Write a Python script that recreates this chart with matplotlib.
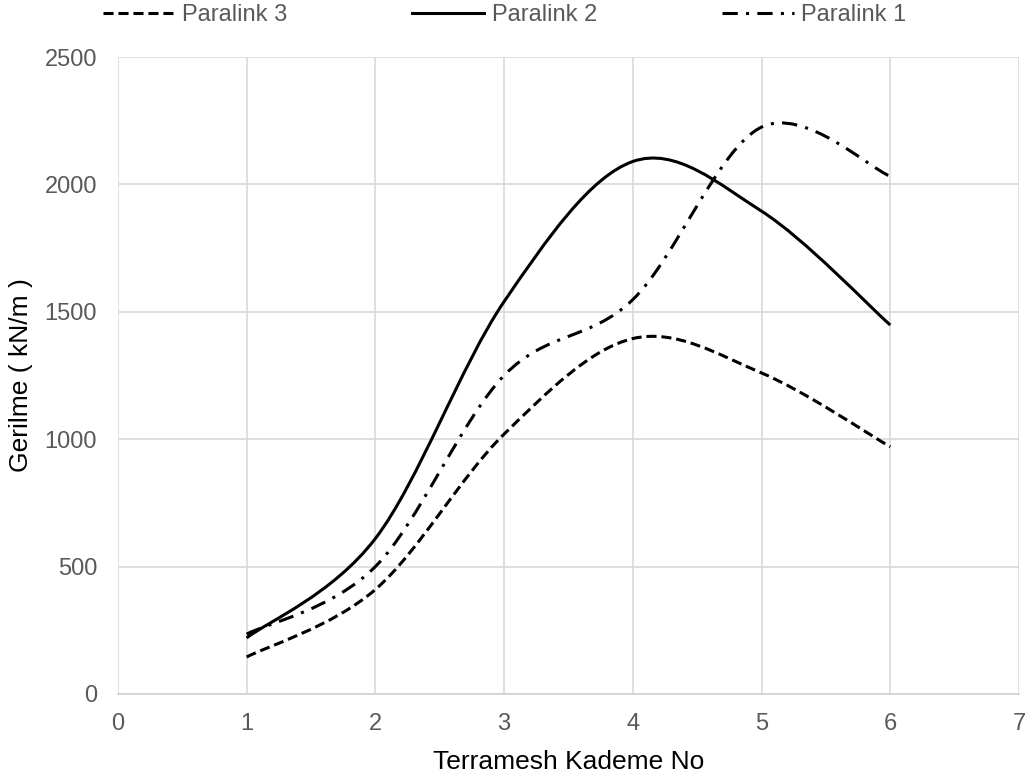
import matplotlib
matplotlib.use("Agg")
import matplotlib.pyplot as plt
from matplotlib.path import Path
from matplotlib.patches import PathPatch
from matplotlib.lines import Line2D

plt.rcParams['font.family'] = ['Liberation Sans', 'DejaVu Sans']

kademe = [1, 2, 3, 4, 5, 6]
paralink3 = [145, 410, 1020, 1395, 1260, 970]
paralink2 = [220, 610, 1540, 2090, 1895, 1448]
paralink1 = [235, 500, 1250, 1548, 2225, 2032]

series = [
    ("Paralink 3", paralink3, (0, (3.3, 1.6))),
    ("Paralink 2", paralink2, "-"),
    ("Paralink 1", paralink1, (0, (5, 2.7, 1, 2.7))),
]


def smooth_path(xs, ys):
    # excel-like smoothed line: cubic bezier through the points
    pts = list(zip(xs, ys))
    verts = [pts[0]]
    codes = [Path.MOVETO]
    n = len(pts)
    for i in range(n - 1):
        p0 = pts[i - 1] if i > 0 else pts[i]
        p1 = pts[i]
        p2 = pts[i + 1]
        p3 = pts[i + 2] if i + 2 < n else pts[i + 1]
        c1 = (p1[0] + (p2[0] - p0[0]) / 6, p1[1] + (p2[1] - p0[1]) / 6)
        c2 = (p2[0] - (p3[0] - p1[0]) / 6, p2[1] - (p3[1] - p1[1]) / 6)
        verts += [c1, c2, p2]
        codes += [Path.CURVE4] * 3
    return Path(verts, codes)


fig = plt.figure(figsize=(10.34, 7.78), dpi=100)
ax = fig.add_axes([0.114, 0.108, 0.8715, 0.8187])

handles = []
for name, vals, ls in series:
    patch = PathPatch(smooth_path(kademe, vals), facecolor='none', edgecolor='black',
                      lw=2.2, linestyle=ls, capstyle='butt', zorder=3)
    ax.add_patch(patch)
    handles.append(Line2D([], [], color='black', lw=2.2, linestyle=ls, label=name))

ax.set_xlim(0, 7)
ax.set_ylim(0, 2500)
ax.set_xticks(range(0, 8))
ax.set_yticks(range(0, 2501, 500))
ax.grid(True, color='#d9d9d9', lw=1.2)
ax.set_axisbelow(True)
for s in ['top', 'right', 'left']:
    ax.spines[s].set_visible(False)
ax.spines['bottom'].set_color('#d0d0d0')
ax.spines['bottom'].set_linewidth(1.2)
ax.tick_params(length=0, labelsize=17, colors='#595959')
ax.tick_params(axis='x', pad=14)
ax.tick_params(axis='y', pad=15)

ax.set_xlabel("Terramesh Kademe No", fontsize=19, color='black')
ax.set_ylabel("Gerilme ( kN/m )", fontsize=19, color='black')
ax.xaxis.set_label_coords(0.5, -0.088)
ax.yaxis.set_label_coords(-0.094, 0.5)

fig.legend(handles=handles, loc='center left', bbox_to_anchor=(103 / 1034, 1 - 15 / 778),
           ncol=3, frameon=False, fontsize=17, handlelength=3.05, handletextpad=0.3,
           columnspacing=5.3, borderpad=0, borderaxespad=0, labelcolor='#595959')

fig.savefig("out.png", dpi=100)
